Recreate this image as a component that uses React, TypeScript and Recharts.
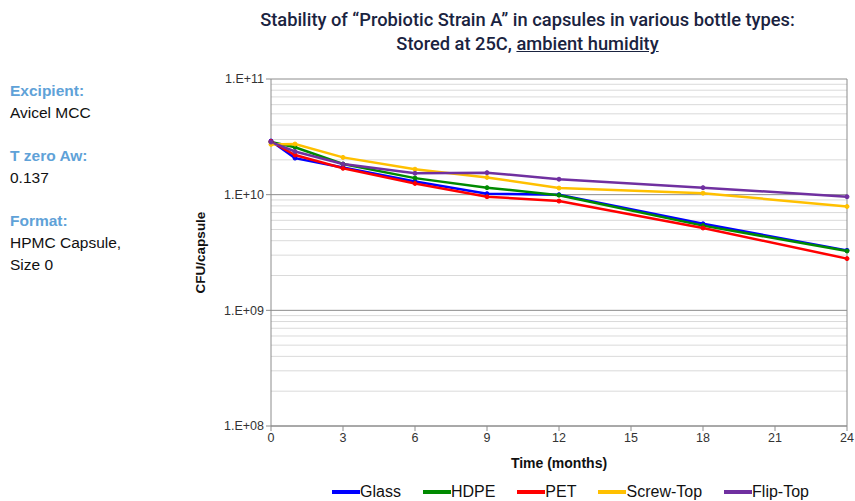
import React from 'react'
import { LineChart, Line, XAxis, YAxis, ReferenceLine, Legend } from 'recharts'

const months = [0, 1, 3, 6, 9, 12, 18, 24]
const glass = [2.91e10, 2.07e10, 1.72e10, 1.3e10, 1.02e10, 1.0e10, 5.6e9, 3.3e9]
const hdpe = [2.85e10, 2.57e10, 1.84e10, 1.39e10, 1.15e10, 9.9e9, 5.4e9, 3.26e9]
const pet = [2.88e10, 2.2e10, 1.69e10, 1.25e10, 9.6e9, 8.8e9, 5.15e9, 2.8e9]
const screwTop = [2.72e10, 2.74e10, 2.1e10, 1.66e10, 1.41e10, 1.14e10, 1.03e10, 7.9e9]
const flipTop = [2.85e10, 2.36e10, 1.84e10, 1.53e10, 1.55e10, 1.36e10, 1.15e10, 9.6e9]

const xTicks = [0, 3, 6, 9, 12, 15, 18, 21, 24]
const decades = [1e8, 1e9, 1e10, 1e11]
const minorLines = [
  2e8, 3e8, 4e8, 5e8, 6e8, 7e8, 8e8, 9e8,
  2e9, 3e9, 4e9, 5e9, 6e9, 7e9, 8e9, 9e9,
  2e10, 3e10, 4e10, 5e10, 6e10, 7e10, 8e10, 9e10,
]

const series = [
  { key: 'glass', name: 'Glass', color: '#0000ff', values: glass },
  { key: 'hdpe', name: 'HDPE', color: '#008a00', values: hdpe },
  { key: 'pet', name: 'PET', color: '#ff0000', values: pet },
  { key: 'screw', name: 'Screw-Top', color: '#ffc000', values: screwTop },
  { key: 'flip', name: 'Flip-Top', color: '#7030a0', values: flipTop },
]

const data = months.map((m, i) => {
  const row: Record<string, number> = { month: m }
  series.forEach(s => { row[s.key] = s.values[i] })
  return row
})

const fmtExp = (v: number) => `1.E+${String(Math.round(Math.log10(v))).padStart(2, '0')}`

const font = 'Arial, "Liberation Sans", sans-serif'

function LegendContent() {
  return (
    <div style={{ display: 'flex', gap: 22, fontFamily: font, fontSize: 16, color: '#111', lineHeight: '20px' }}>
      {series.map(s => (
        <div key={s.key} style={{ display: 'flex', alignItems: 'center' }}>
          <svg width={28} height={10}>
            <line x1={0} y1={5} x2={28} y2={5} stroke={s.color} strokeWidth={4} />
            <circle cx={14} cy={5} r={2} fill={s.color} />
          </svg>
          <span>{s.name}</span>
        </div>
      ))}
    </div>
  )
}

const infoLabel: React.CSSProperties = { color: '#5fa2d8', fontWeight: 'bold', fontSize: 15.5, height: 22 }
const infoValue: React.CSSProperties = { color: '#111', fontSize: 15.5, height: 22 }

export default function App() {
  return (
    <div style={{ position: 'absolute', left: 0, top: 0, width: 855, height: 501, background: '#fff', fontFamily: font }}>
      <div style={{ position: 'absolute', top: 8, left: 200, width: 655, textAlign: 'center', fontFamily: 'Roboto, sans-serif', fontSize: 18.3, fontWeight: 500, color: '#1a2340', lineHeight: '24px' }}>
        <div>Stability of “Probiotic Strain A” in capsules in various bottle types:</div>
        <div>Stored at 25C, <span style={{ textDecoration: 'underline' }}>ambient humidity</span></div>
      </div>
      <div style={{ position: 'absolute', top: 80, left: 10, lineHeight: '22px' }}>
        <div style={infoLabel}>Excipient:</div>
        <div style={infoValue}>Avicel MCC</div>
        <div style={{ height: 21 }} />
        <div style={infoLabel}>T zero Aw:</div>
        <div style={infoValue}>0.137</div>
        <div style={{ height: 21 }} />
        <div style={infoLabel}>Format:</div>
        <div style={infoValue}>HPMC Capsule,</div>
        <div style={infoValue}>Size 0</div>
      </div>
      <div style={{ position: 'absolute', left: 0, top: 0 }}>
        <LineChart width={855} height={501} data={data} margin={{ top: 79, right: 8, bottom: 30, left: 0 }}>
          {minorLines.map(v => (
            <ReferenceLine key={v} y={v} stroke="#dadada" strokeWidth={1} />
          ))}
          {decades.map(d => (
            <ReferenceLine key={d} y={d} stroke="#8c8c8c" strokeWidth={1} />
          ))}
          <ReferenceLine x={24} stroke="#8c8c8c" strokeWidth={1} />
          <XAxis
            dataKey="month"
            type="number"
            domain={[0, 24]}
            ticks={xTicks}
            height={45}
            axisLine={{ stroke: '#8c8c8c' }}
            tickLine={{ stroke: '#8c8c8c' }}
            tickSize={5}
            tick={{ fill: '#333', fontSize: 12.5, fontFamily: font }}
            label={{ value: 'Time (months)', position: 'insideBottom', offset: 3, fill: '#111', fontSize: 14, fontWeight: 'bold', fontFamily: font }}
          />
          <YAxis
            scale="log"
            domain={[1e8, 1e11]}
            ticks={decades}
            tickFormatter={fmtExp}
            allowDataOverflow
            width={271}
            axisLine={{ stroke: '#8c8c8c' }}
            tickLine={{ stroke: '#8c8c8c' }}
            tickSize={5}
            tick={{ fill: '#333', fontSize: 12.5, fontFamily: font }}
            label={{ value: 'CFU/capsule', angle: -90, position: 'insideRight', offset: 71, fill: '#111', fontSize: 13.5, fontWeight: 'bold', fontFamily: font, style: { textAnchor: 'middle' } }}
          />
          {series.map(s => (
            <Line
              key={s.key}
              dataKey={s.key}
              name={s.name}
              stroke={s.color}
              strokeWidth={2.5}
              dot={{ r: 2, fill: s.color, stroke: s.color, strokeWidth: 1 }}
              activeDot={false}
              isAnimationActive={false}
            />
          ))}
          <Legend
            layout="horizontal"
            verticalAlign="middle"
            align="center"
            content={<LegendContent />}
            wrapperStyle={{ top: 482, left: 332, width: 500, height: 20 }}
          />
        </LineChart>
      </div>
    </div>
  )
}
